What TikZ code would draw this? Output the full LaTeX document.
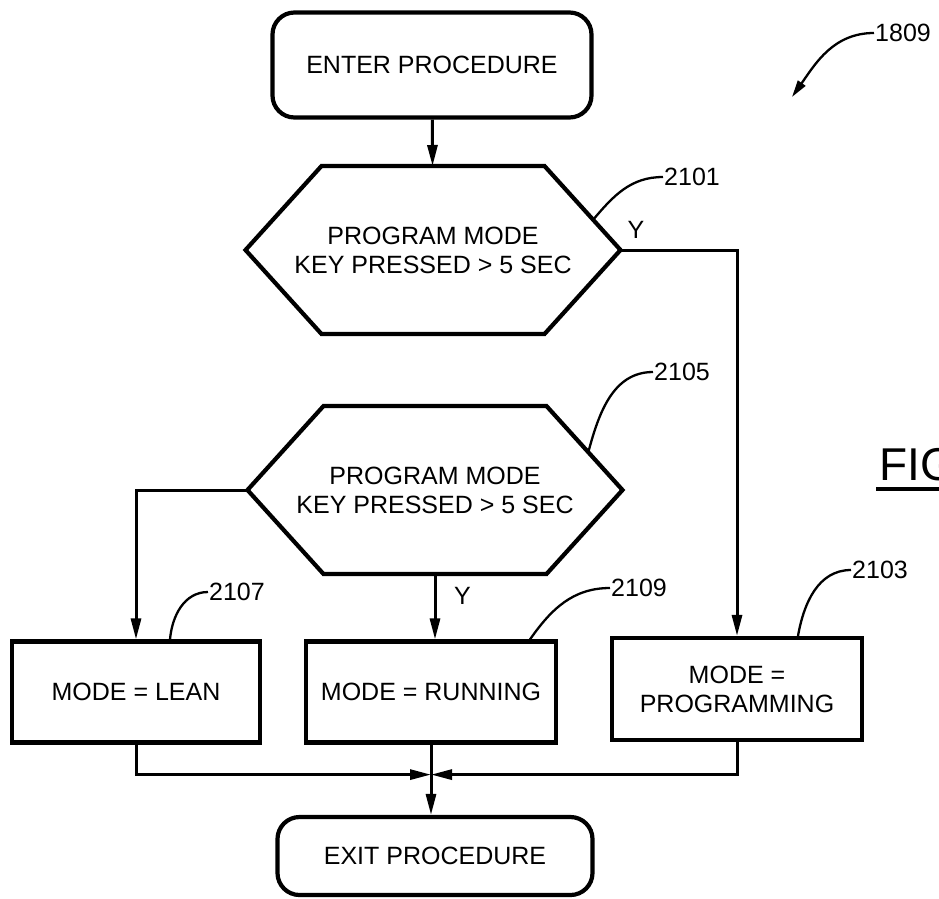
\documentclass[tikz,border=0pt]{standalone}
\usepackage{fontspec}
\setmainfont{Liberation Sans}
\usetikzlibrary{arrows.meta,calc}

\begin{document}
\begin{tikzpicture}[x=1pt,y=-1pt,
	txt/.style={font=\fontsize{25}{29}\selectfont, align=center},
	stepbox/.style={txt, draw, line width=4.2pt, inner sep=0pt},
	termbox/.style={stepbox, rounded corners=22pt},
	hexbox/.style={txt, inner sep=0pt, outer sep=0pt, minimum width=375pt, minimum height=168pt},
	flow/.style={line width=3pt, -{Triangle[length=21pt,width=10pt]}},
	leader/.style={line width=2.3pt},
	refnum/.style={font=\fontsize{25}{29}\selectfont, inner sep=1pt}]
	\useasboundingbox (0,0) rectangle (939,898);

	\node[termbox, minimum width=319pt, minimum height=105pt] (enter) at (432,65) {ENTER PROCEDURE};
	\node[hexbox] (keyA) at (433,250) {PROGRAM MODE\\KEY PRESSED > 5 SEC};
	\node[hexbox] (keyB) at (435,490) {PROGRAM MODE\\KEY PRESSED > 5 SEC};
	\foreach \h in {keyA,keyB}
		\draw[line width=4.2pt, line join=miter] (\h.west) -- ([xshift=76pt]\h.north west) -- ([xshift=-76pt]\h.north east)
			-- (\h.east) -- ([xshift=-76pt]\h.south east) -- ([xshift=76pt]\h.south west) -- cycle;
	\node[stepbox, minimum width=248pt, minimum height=101pt] (lean) at (136,692) {MODE = LEAN};
	\node[stepbox, minimum width=250pt, minimum height=101pt] (run) at (431,692) {MODE = RUNNING};
	\node[stepbox, minimum width=250pt, minimum height=102pt] (prog) at (737,689) {MODE =\\PROGRAMMING};
	\node[termbox, minimum width=315pt, minimum height=78pt] (exit) at (435,856) {EXIT PROCEDURE};

	\draw[flow] (enter) -- (keyA);
	\draw[flow] (keyA.east) -| (prog.north);
	\draw[flow] (keyB.west) -| (lean.north);
	\draw[flow] (keyB.south) -- (keyB.south |- run.north);
	\coordinate (merge) at ([yshift=-30pt]run.south);
	\draw[flow] (lean.south) |- (merge);
	\draw[flow] (prog.south) |- (merge);
	\draw[flow] (run.south) -- (run.south |- exit.north);

	\node[refnum, anchor=south west] (yesA) at ([xshift=6pt,yshift=10pt]keyA.east) {Y};
	\node[refnum, anchor=north west] (yesB) at ([xshift=18pt,yshift=-12pt]keyB.south) {Y};

	\node[refnum] (n1809) at (903,33) {1809};
	\coordinate (aim1809) at (792,97);
	\draw[leader, -{Triangle[length=17pt,width=9pt]}] (n1809.west) to[out=180,in=55] (aim1809);
	\node[refnum] (n2101) at (692,177) {2101};
	\draw[leader] (n2101.west) to[out=180,in=50] ($([xshift=-76pt]keyA.north east)!0.64!(keyA.east)$);
	\node[refnum] (n2105) at (682,372) {2105};
	\draw[leader] (n2105.west) to[out=180,in=75] ($([xshift=-76pt]keyB.north east)!0.55!(keyB.east)$);
	\node[refnum] (n2107) at (237,592) {2107};
	\draw[leader] (n2107.west) to[out=180,in=85] ([xshift=34pt]lean.north);
	\node[refnum] (n2109) at (639,588) {2109};
	\draw[leader] (n2109.west) to[out=180,in=55] ([xshift=99pt]run.north);
	\node[refnum] (n2103) at (880,570) {2103};
	\draw[leader] (n2103.west) to[out=180,in=80] ([xshift=61pt]prog.north);

	\node[font=\fontsize{46}{50}\selectfont, anchor=base west, inner sep=0pt] (fig) at (879,480) {FIG};
	\draw[line width=3.5pt] ([xshift=-3pt,yshift=-9pt]fig.base west) -- ([yshift=-9pt]fig.base east);
\end{tikzpicture}
\end{document}
